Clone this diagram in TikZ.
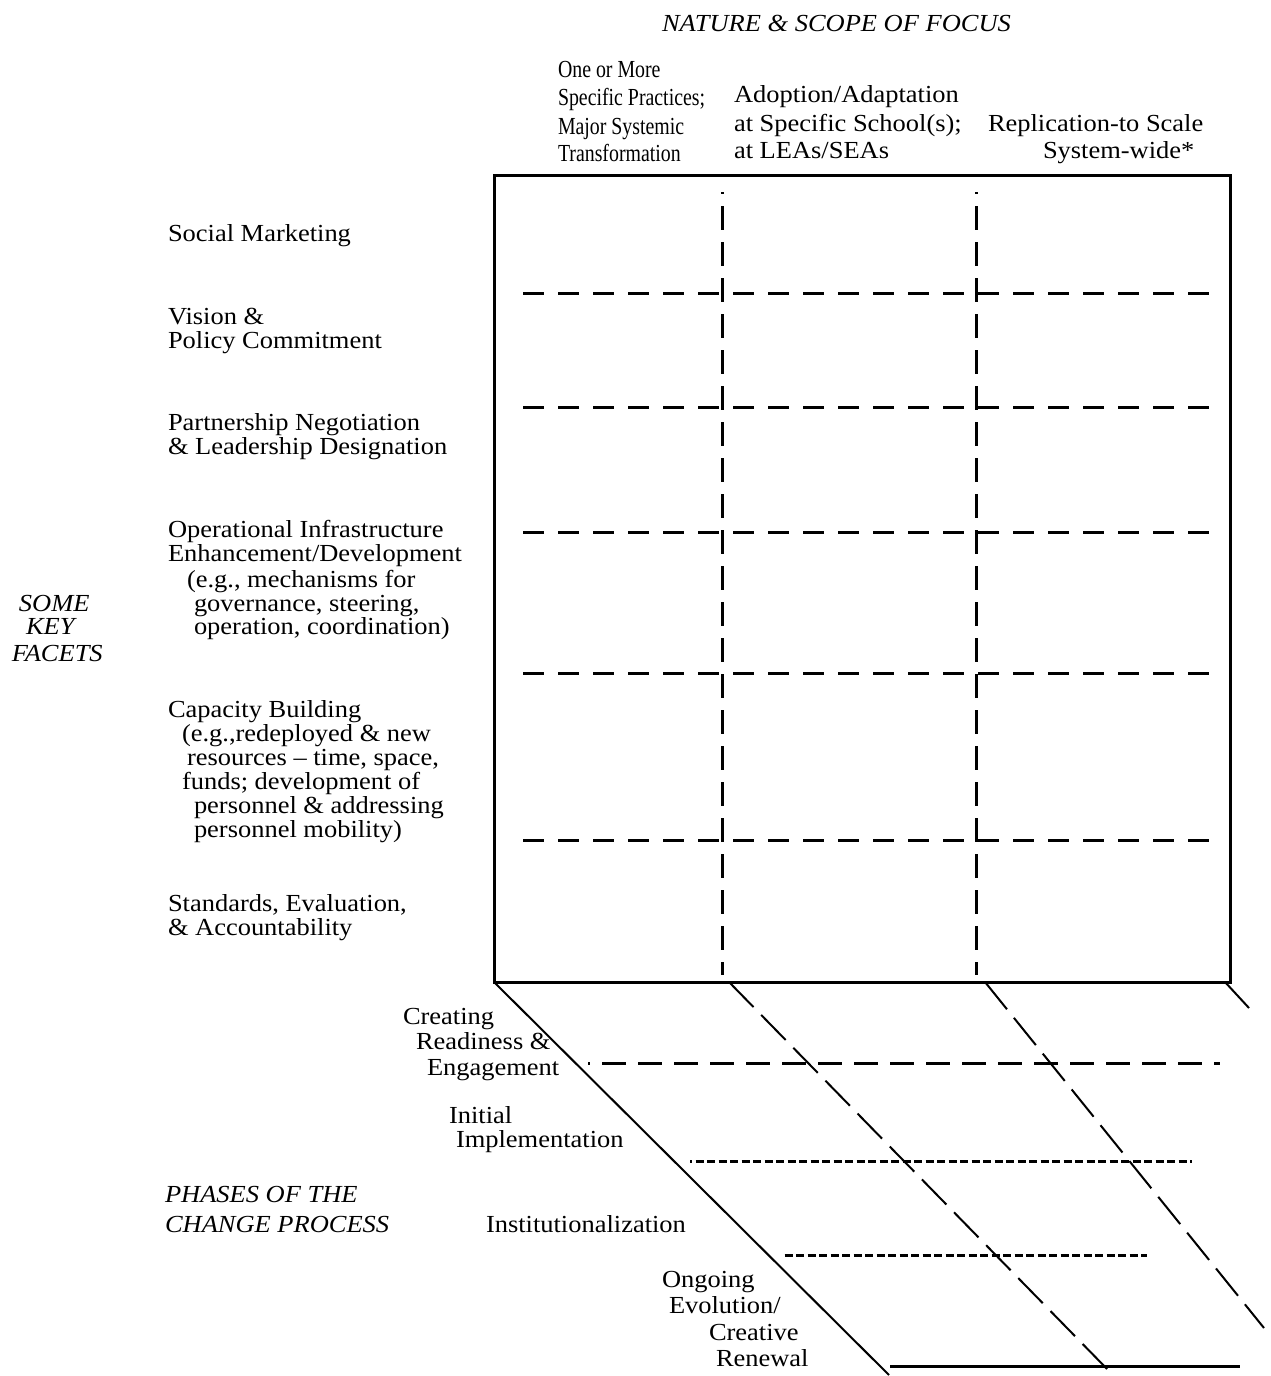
\documentclass[tikz,border=0pt]{standalone}
\usepackage{fontspec}
\setmainfont{Liberation Serif}[FakeStretch=1.08]
\newcommand{\narrowtxt}[1]{\scalebox{0.75}[1]{#1}}
\begin{document}
\begin{tikzpicture}[x=1pt,y=-1pt,
  every node/.style={inner sep=0pt,outer sep=0pt,anchor=base west,font=\fontsize{24.5}{24}\selectfont},
  itl/.style={font=\fontsize{24.5}{24}\selectfont\itshape},
  boxline/.style={line width=3pt},
  vdash/.style={line width=3pt,dash pattern=on 24pt off 12pt,dash phase=22pt},
  hdash/.style={line width=3pt,dash pattern=on 21pt off 14pt},
  ddash/.style={line width=2pt,dash pattern=on 35pt off 11pt},
  diag/.style={line width=2pt},
  phdash/.style={line width=3pt,dash pattern=on 24pt off 12pt,dash phase=22pt},
  fdash/.style={line width=3pt,dash pattern=on 8pt off 3.5pt,dash phase=6pt},
  solidb/.style={line width=3pt}]
\useasboundingbox (0,0) rectangle (1270,1376);
% grid box
\draw[boxline] (494,175) rectangle (1230,982);
\foreach \xx/\nm in {722/a,976/b}{
  \coordinate (vt\nm) at (\xx,192);
  \coordinate (vb\nm) at (\xx,975);
  \draw[vdash] (vt\nm) -- (vb\nm);
}
\foreach \yy/\nm in {293/1,407/2,532/3,673/4,840/5}{
  \coordinate (hl\nm) at (523,\yy);
  \coordinate (hr\nm) at (1210,\yy);
  \draw[hdash] (hl\nm) -- (hr\nm);
}
% perspective floor
\coordinate (d1a) at (494,982);  \coordinate (d1b) at (889,1375);
\coordinate (d2a) at (729,982);  \coordinate (d2b) at (1111,1373);
\coordinate (d3a) at (985,982);  \coordinate (d3b) at (1264,1328);
\coordinate (d4a) at (1225,982); \coordinate (d4b) at (1249,1008);
\draw[diag] (d1a) -- (d1b);
\draw[ddash] (d2a) -- (d2b);
\draw[ddash] (d3a) -- (d3b);
\draw[diag] (d4a) -- (d4b);
\coordinate (p1a) at (588,1063); \coordinate (p1b) at (1220,1063);
\coordinate (p2a) at (690,1161); \coordinate (p2b) at (1192,1161);
\coordinate (p3a) at (783,1255); \coordinate (p3b) at (1147,1255);
\coordinate (p4a) at (890,1366); \coordinate (p4b) at (1240,1366);
\draw[phdash] (p1a) -- (p1b);
\draw[fdash] (p2a) -- (p2b);
\draw[fdash,dash phase=10pt] (p3a) -- (p3b);
\draw[solidb] (p4a) -- (p4b);
% top labels
\node[itl] (nat) at (662,31) {NATURE \& SCOPE OF FOCUS};
\node (c1a) at (558,77) {\narrowtxt{One or More}};
\node (c1b) at (558,105) {\narrowtxt{Specific Practices;}};
\node (c1c) at (558,134) {\narrowtxt{Major Systemic}};
\node (c1d) at (558,161) {\narrowtxt{Transformation}};
\node (c2a) at (734,102) {Adoption/Adaptation};
\node (c2b) at (734,131) {at Specific School(s);};
\node (c2c) at (734,158) {at LEAs/SEAs};
\node (c3a) at (988,131) {Replication-to Scale};
\node (c3b) at (1043,158) {System-wide*};
% left labels
\node (r1) at (168,241) {Social Marketing};
\node (r2a) at (168,324) {Vision \&};
\node (r2b) at (168,348) {Policy Commitment};
\node (r3a) at (168,430) {Partnership Negotiation};
\node (r3b) at (168,454) {\& Leadership Designation};
\node (r4a) at (168,537) {Operational Infrastructure};
\node (r4b) at (168,561) {Enhancement/Development};
\node (r4c) at (187,587) {(e.g., mechanisms for};
\node (r4d) at (194,611) {governance, steering,};
\node (r4e) at (194,634) {operation, coordination)};
\node[itl] (f1) at (19,611) {SOME};
\node[itl] (f2) at (26,634) {KEY};
\node[itl] (f3) at (12,661) {FACETS};
\node (r5a) at (168,717) {Capacity Building};
\node (r5b) at (182,741) {(e.g.,redeployed \& new};
\node (r5c) at (187,765) {resources – time, space,};
\node (r5d) at (182,789) {funds; development of};
\node (r5e) at (194,813) {personnel \& addressing};
\node (r5f) at (194,837) {personnel mobility)};
\node (r6a) at (168,911) {Standards, Evaluation,};
\node (r6b) at (168,935) {\& Accountability};
% phases
\node (ph1a) at (403,1024) {Creating};
\node (ph1b) at (416,1049) {Readiness \&};
\node (ph1c) at (427,1075) {Engagement};
\node (ph2a) at (449,1123) {Initial};
\node (ph2b) at (456,1147) {Implementation};
\node (ph3) at (486,1232) {Institutionalization};
\node (ph4a) at (662,1287) {Ongoing};
\node (ph4b) at (669,1313) {Evolution/};
\node (ph4c) at (709,1340) {Creative};
\node (ph4d) at (716,1366) {Renewal};
\node[itl] (pt1) at (165,1202) {PHASES OF THE};
\node[itl] (pt2) at (165,1232) {CHANGE PROCESS};
\end{tikzpicture}
\end{document}
